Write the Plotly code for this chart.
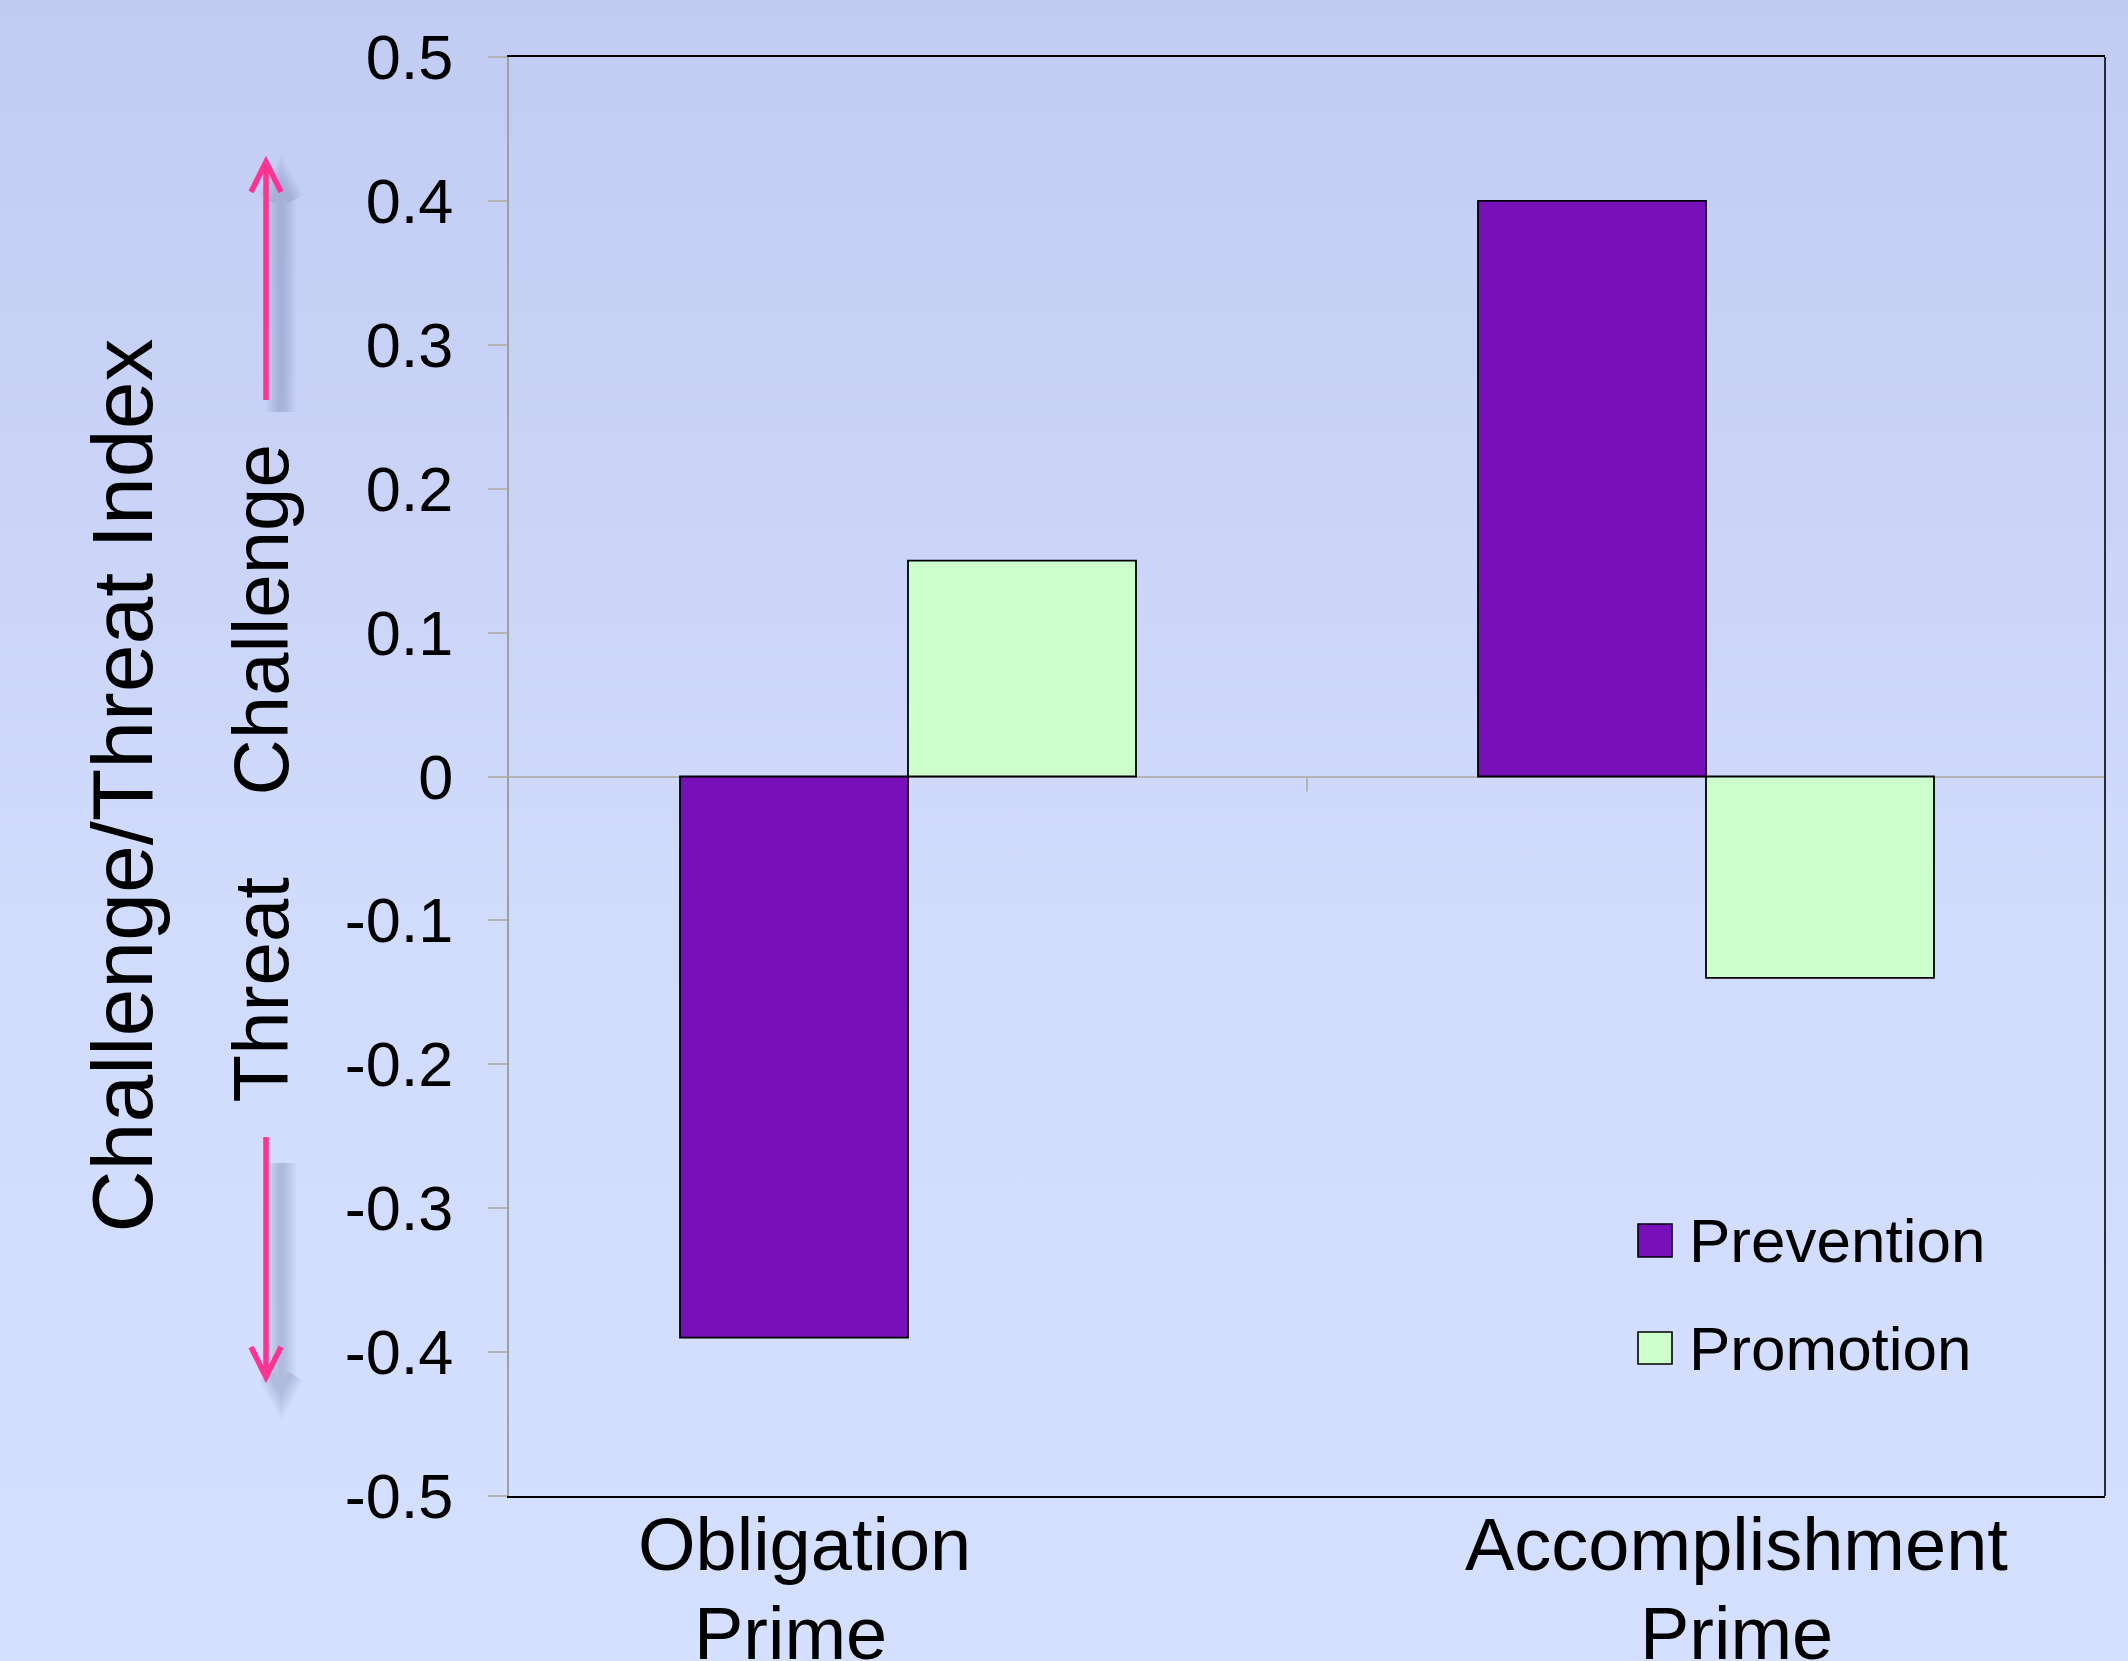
import base64
import plotly.graph_objects as go

# ---- data ----
categories = ["Obligation Prime", "Accomplishment Prime"]
series_names = ["Prevention", "Promotion"]
prevention = [-0.39, 0.40]
promotion = [0.15, -0.14]
y_tickvals = [0.5, 0.4, 0.3, 0.2, 0.1, 0, -0.1, -0.2, -0.3, -0.4, -0.5]
y_ticktext = ["0.5", "0.4", "0.3", "0.2", "0.1", "0", "-0.1", "-0.2", "-0.3", "-0.4", "-0.5"]
y_title = "Challenge/Threat Index"
side_labels = ["Challenge", "Threat"]

# ---- styling ----
W, H = 2128, 1661
ML, MR, MT, MB = 509, 23, 57, 165
PW, PH = W - ML - MR, H - MT - MB
FONT = "Liberation Sans, Arial, sans-serif"
PURPLE = "#7710B8"
MINT = "#CCFFCC"
PINK = "#FF3392"
GRID_GREY = "#B4B4B4"


def px_x(px):
    """absolute pixel column -> paper x"""
    return (px - ML) / PW


def px_y(py):
    """absolute pixel row -> paper y"""
    return (H - MB - py) / PH


fig = go.Figure()
for name, vals, color in [(series_names[0], prevention, PURPLE),
                          (series_names[1], promotion, MINT)]:
    fig.add_trace(go.Bar(
        x=categories, y=vals, name=name, showlegend=False,
        marker=dict(color=color, line=dict(color="black", width=1.8)),
    ))

# soft gradient backdrop behind the whole figure
svg = ('<svg xmlns="http://www.w3.org/2000/svg" width="100" height="100" '
       'viewBox="0 0 100 100" preserveAspectRatio="none">'
       '<defs><linearGradient id="g" x1="0" y1="0" x2="0" y2="1">'
       '<stop offset="0" stop-color="rgb(194,203,242)"/>'
       '<stop offset="0.55" stop-color="rgb(209,219,252)"/>'
       '<stop offset="1" stop-color="rgb(213,223,254)"/>'
       '</linearGradient></defs>'
       '<rect width="100" height="100" fill="url(#g)"/></svg>')
bg_src = "data:image/svg+xml;base64," + base64.b64encode(svg.encode()).decode()

shapes = []

# right border of the frame
shapes.append(dict(type="line", xref="paper", yref="paper", x0=1, x1=1, y0=0, y1=1,
                   line=dict(color="black", width=1.6), layer="above"))

# category divider tick hanging below the zero line
shapes.append(dict(type="line", xref="x", yref="y", x0=0.5, x1=0.5,
                   ysizemode="pixel", yanchor=0, y0=0, y1=-15,
                   line=dict(color=GRID_GREY, width=2)))

# up / down arrows with a soft drop shadow
arrow_x = px_x(266)
arrows = [
    (px_y(400), "M0,0 L0,238 M-15,208 L0,238 L15,208",
     "M0,0 L0,226 M-9,210 L0,226 L9,210"),
    (px_y(1137), "M0,0 L0,-240 M-15,-210 L0,-240 L15,-210",
     "M0,-14 L0,-240 M-9,-224 L0,-240 L9,-224"),
]
for anchor_y, path, shadow_path in arrows:
    for w in [30, 26, 22, 18, 14, 10, 6]:
        shapes.append(dict(type="path", xref="paper", yref="paper",
                           xsizemode="pixel", ysizemode="pixel",
                           xanchor=px_x(266 + 15), yanchor=anchor_y - 12 / PH,
                           path=shadow_path, opacity=0.035,
                           line=dict(color="rgb(80,90,140)", width=w)))
    shapes.append(dict(type="path", xref="paper", yref="paper",
                       xsizemode="pixel", ysizemode="pixel",
                       xanchor=arrow_x, yanchor=anchor_y,
                       path=path, line=dict(color=PINK, width=5.5)))

# legend swatches
legend_rows = [(series_names[0], PURPLE, 1224, 1257, 1240.5),
               (series_names[1], MINT, 1332, 1364, 1348)]
annotations = []
for name, color, top, bottom, mid in legend_rows:
    shapes.append(dict(type="rect", xref="paper", yref="paper",
                       x0=px_x(1638), x1=px_x(1672), y0=px_y(bottom), y1=px_y(top),
                       fillcolor=color, line=dict(color="black", width=1.6)))
    annotations.append(dict(text=name, xref="paper", yref="paper",
                            x=px_x(1687), y=px_y(mid), xanchor="left", yanchor="middle",
                            showarrow=False, font=dict(size=62, color="black", family=FONT)))

# two-line category labels under the plot
label_shift = {categories[0]: [-104, -118], categories[1]: [30, 30]}
line_shift_y = [-48, -137]
for cat in categories:
    for i, line in enumerate(cat.split(" ")):
        annotations.append(dict(text=line, xref="x", yref="paper", x=cat, y=0,
                                xshift=label_shift[cat][i], yshift=line_shift_y[i],
                                xanchor="center", yanchor="middle", showarrow=False,
                                font=dict(size=74, color="black", family=FONT)))

# axis title and the Challenge / Threat side labels
annotations.append(dict(text=y_title, xref="paper", yref="paper",
                        x=px_x(121), y=px_y(785.5), textangle=-90,
                        xanchor="center", yanchor="middle", showarrow=False,
                        font=dict(size=86, color="black", family=FONT)))
for text, cy in zip(side_labels, [620, 990]):
    annotations.append(dict(text=text, xref="paper", yref="paper",
                            x=px_x(260.5), y=px_y(cy), textangle=-90,
                            xanchor="center", yanchor="middle", showarrow=False,
                            font=dict(size=78, color="black", family=FONT)))

fig.update_layout(
    width=W, height=H,
    margin=dict(l=ML, r=MR, t=MT, b=MB, pad=0),
    paper_bgcolor="rgb(208,218,251)",
    plot_bgcolor="rgba(0,0,0,0)",
    barmode="group", bargap=1.5 / 3.5, bargroupgap=0,
    showlegend=False,
    font=dict(family=FONT, color="black"),
    images=[dict(source=bg_src, xref="paper", yref="paper",
                 x=-ML / PW, y=1 + MT / PH, sizex=W / PW, sizey=H / PH,
                 xanchor="left", yanchor="top", sizing="stretch", layer="below")],
    shapes=shapes,
    annotations=annotations,
    xaxis=dict(showticklabels=False, ticks="", showgrid=False, zeroline=False,
               showline=True, linecolor="black", linewidth=2, mirror=True),
    yaxis=dict(range=[-0.5, 0.5], tickvals=y_tickvals, ticktext=y_ticktext,
               ticks="outside", ticklen=19, tickwidth=2, tickcolor=GRID_GREY,
               ticklabelstandoff=22,
               tickfont=dict(size=63, color="black", family=FONT),
               showgrid=False, zeroline=True, zerolinecolor=GRID_GREY, zerolinewidth=2,
               showline=True, linecolor="#A0A0A0", linewidth=2),
)

fig.write_html("out.html")
